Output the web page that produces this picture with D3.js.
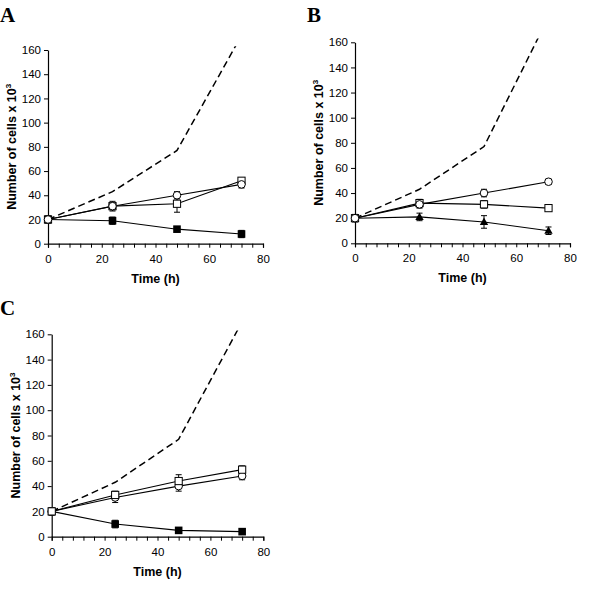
<!DOCTYPE html>
<html><head><meta charset="utf-8">
<script src="https://cdn.jsdelivr.net/npm/d3@7"></script>
<style>body{margin:0;background:#fff}svg{display:block}</style>
</head><body>
<svg id="chart" width="600" height="613"></svg>
<script>
const times = [0, 24, 48, 72];
const xTicks = [0, 20, 40, 60, 80];
const yTicks = [0, 20, 40, 60, 80, 100, 120, 140, 160];
const panelLetters = ["A", "B", "C"];
const yLabel = "Number of cells x 10";
const xLabel = "Time (h)";

// Panel A
const A_control = [20, 43, 77, 172];
const A_circle = [20, 31, 40, 49];
const A_circleErr = [2, 4, 3, 3];
const A_square = [20, 31, 33, 52];
const A_squareErr = [2, 3, 7, 2];
const A_filled = [20, 19, 12, 8];
const A_filledErr = [3, 3, 2, 3];
// Panel B
const B_control = [20, 43, 77, 180];
const B_circle = [20, 31, 40, 49];
const B_circleErr = [2, 3, 3, 2];
const B_square = [20, 32, 31, 28];
const B_squareErr = [3, 3, 3, 2];
const B_tri = [20, 21, 17, 10];
const B_triErr = [2, 3, 5, 3];
// Panel C
const C_control = [20, 43, 77, 170];
const C_circle = [20, 31, 40, 48];
const C_circleErr = [2, 4, 4, 3];
const C_square = [20, 33, 44, 53];
const C_squareErr = [2, 3, 5, 3];
const C_filled = [20, 10, 5, 4];
const C_filledErr = [3, 3, 1, 2];

const panels = [
  {letter: panelLetters[0], lx: 0, ly: 22, x0: 48, x1: 263, yb: 243.7, yt: 50,
   control: A_control,
   series: [
     {v: A_filled, e: A_filledErr, sym: "fsquare"},
     {v: A_square, e: A_squareErr, sym: "osquare"},
     {v: A_circle, e: A_circleErr, sym: "ocircle"}]},
  {letter: panelLetters[1], lx: 307, ly: 22, x0: 355, x1: 570, yb: 243.3, yt: 42.3,
   control: B_control,
   series: [
     {v: B_tri, e: B_triErr, sym: "ftri"},
     {v: B_square, e: B_squareErr, sym: "osquare"},
     {v: B_circle, e: B_circleErr, sym: "ocircle"}]},
  {letter: panelLetters[2], lx: 0, ly: 315, x0: 51.7, x1: 263.3, yb: 536.7, yt: 334.3,
   control: C_control,
   series: [
     {v: C_filled, e: C_filledErr, sym: "fsquare"},
     {v: C_circle, e: C_circleErr, sym: "ocircle"},
     {v: C_square, e: C_squareErr, sym: "osquare"}]}
];

const svg = d3.select("#chart");
const font = "'Liberation Sans', Arial, sans-serif";

panels.forEach((p, i) => {
  const x = d3.scaleLinear().domain([0, 80]).range([p.x0, p.x1]);
  const y = d3.scaleLinear().domain([0, 160]).range([p.yb, p.yt]);
  const g = svg.append("g");

  g.append("text").attr("x", p.lx).attr("y", p.ly).text(p.letter)
    .attr("font-family", "'Liberation Serif', 'Times New Roman', serif")
    .attr("font-weight", "bold").attr("font-size", 21);

  // axes
  const xAxis = d3.axisBottom(x).tickValues(d3.range(0, 81, 4)).tickSize(4)
    .tickFormat(d => xTicks.includes(d) ? d : "");
  const gx = g.append("g").attr("transform", `translate(0,${p.yb})`).call(xAxis);
  gx.select(".domain").attr("stroke", "#000").attr("stroke-width", 1.2);
  gx.selectAll(".tick line").attr("stroke", "#000");
  gx.selectAll(".tick text").attr("font-family", font).attr("font-size", 11.5)
    .attr("fill", "#000").attr("dy", "0.71em").attr("y", 11);

  const yAxis = d3.axisLeft(y).tickValues(yTicks).tickSize(4).tickSizeOuter(0);
  const gy = g.append("g").attr("transform", `translate(${p.x0},0)`).call(yAxis);
  gy.select(".domain").attr("stroke", "#000").attr("stroke-width", 1.2);
  gy.selectAll(".tick line").attr("stroke", "#000");
  gy.selectAll(".tick text").attr("font-family", font).attr("font-size", 11.5)
    .attr("fill", "#000").attr("x", -7);

  // labels
  g.append("text").attr("x", (p.x0 + p.x1) / 2).attr("y", p.yb + 39)
    .attr("text-anchor", "middle").attr("font-family", font)
    .attr("font-weight", "bold").attr("font-size", 12.5).text(xLabel);
  const yl = g.append("text")
    .attr("transform", `translate(${p.x0 - 32},${(p.yb + p.yt) / 2}) rotate(-90)`)
    .attr("text-anchor", "middle").attr("font-family", font)
    .attr("font-weight", "bold").attr("font-size", 12.5);
  yl.append("tspan").text(yLabel);
  yl.append("tspan").attr("font-size", 8).attr("dy", -5).text("3");

  // clip for dashed control
  const cid = "clip" + i;
  svg.append("clipPath").attr("id", cid).append("rect")
    .attr("x", p.x0).attr("y", y(163)).attr("width", p.x1 - p.x0).attr("height", p.yb - y(163));

  const line = d3.line().x((d, j) => x(times[j])).y(d => y(d));
  g.append("path").datum(p.control).attr("d", line)
    .attr("clip-path", `url(#${cid})`)
    .attr("fill", "none").attr("stroke", "#000").attr("stroke-width", 1.5)
    .attr("stroke-dasharray", "7,4");

  p.series.forEach(s => {
    g.append("path").datum(s.v).attr("d", line)
      .attr("fill", "none").attr("stroke", "#000").attr("stroke-width", 1.1);
  });
  p.series.forEach(s => {
    const eg = g.append("g");
    s.v.forEach((v, j) => {
      const cx = x(times[j]);
      eg.append("line").attr("x1", cx).attr("x2", cx).attr("y1", y(v - s.e[j])).attr("y2", y(v + s.e[j]))
        .attr("stroke", "#000").attr("stroke-width", 1);
      [v - s.e[j], v + s.e[j]].forEach(b => {
        eg.append("line").attr("x1", cx - 3).attr("x2", cx + 3).attr("y1", y(b)).attr("y2", y(b))
          .attr("stroke", "#000").attr("stroke-width", 1);
      });
    });
  });
  p.series.forEach(s => {
    s.v.forEach((v, j) => {
      const cx = x(times[j]), cy = y(v);
      if (s.sym === "ocircle") {
        g.append("circle").attr("cx", cx).attr("cy", cy).attr("r", 3.8)
          .attr("fill", "#fff").attr("stroke", "#000").attr("stroke-width", 1);
      } else if (s.sym === "osquare") {
        g.append("rect").attr("x", cx - 3.6).attr("y", cy - 3.6).attr("width", 7.2).attr("height", 7.2)
          .attr("fill", "#fff").attr("stroke", "#000").attr("stroke-width", 1);
      } else if (s.sym === "fsquare") {
        g.append("rect").attr("x", cx - 3.8).attr("y", cy - 3.8).attr("width", 7.6).attr("height", 7.6)
          .attr("fill", "#000");
      } else if (s.sym === "ftri") {
        g.append("path").attr("d", `M${cx},${cy - 4.5}L${cx + 4.2},${cy + 3}L${cx - 4.2},${cy + 3}Z`)
          .attr("fill", "#000");
      }
    });
  });
});
</script>
</body></html>
